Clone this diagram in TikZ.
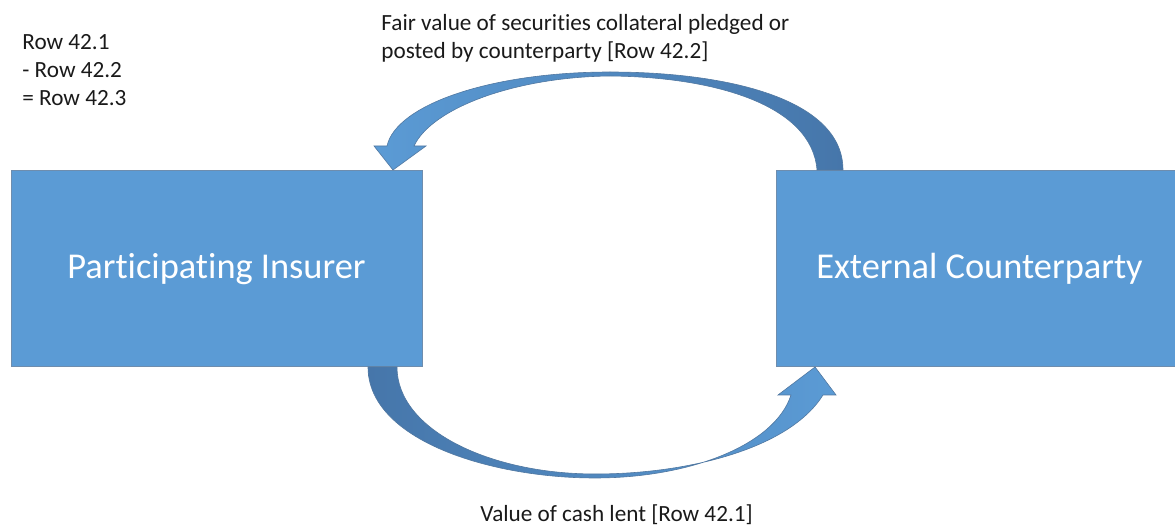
\documentclass[tikz,border=0pt]{standalone}
\usepackage{fontspec}
\setmainfont{Carlito}[Ligatures=NoCommon]
\definecolor{boxblue}{HTML}{5B9BD5}
\definecolor{boxedge}{HTML}{6E8DAE}
\definecolor{arrowdark}{HTML}{4676AA}
\definecolor{arrowlight}{HTML}{5B9BD5}
\definecolor{textgrey}{HTML}{1A1A1A}
\begin{document}
\begin{tikzpicture}[x=0.5pt,y=-0.5pt,
  party/.style={rectangle, draw=boxedge, line width=0.5pt, fill=boxblue,
    text=white, font=\fontsize{18.2}{22}\selectfont, inner sep=0pt},
  lbl/.style={font=\fontsize{11.6}{14}\selectfont, text=textgrey, inner sep=0pt, align=left},
  flow/.style={draw=arrowdark!80!gray, line width=0.3pt}]
\useasboundingbox (0,0) rectangle (1175,529);
% boxes
\node[party, minimum width=205.5pt, minimum height=98pt] (ins) at (216.5,269) {Participating Insurer};
\node[party, minimum width=199.5pt, minimum height=98pt] (cp) at (975.5,269) {\hspace*{4pt}External Counterparty};
% top curved arrow (counterparty -> insurer)
\coordinate (tTo) at (817,170);
\coordinate (tTi) at (843,170);
\shade[flow, left color=arrowlight, right color=arrowdark]
  (tTi) .. controls (843,98) and (725,72) .. (610,72)
        .. controls (490,72) and (396,105) .. (387,146)
  -- (374,146) -- (393,170) -- (426,146) -- (414,146)
  .. controls (432,108) and (515,77) .. (610,76)
  .. controls (715,77) and (812,105) .. (tTo) -- cycle;
% bottom curved arrow (insurer -> counterparty)
\coordinate (bTo) at (368,367);
\coordinate (bTi) at (397,367);
\shade[flow, left color=arrowdark, right color=arrowlight]
  (bTo) .. controls (368,440) and (490,478) .. (595,478)
        .. controls (690,478) and (775,445) .. (791,395)
  -- (778,395) -- (815,367) -- (836,395) -- (823,395)
  .. controls (790,448) and (690,474) .. (595,474)
  .. controls (490,474) and (397,430) .. (bTi) -- cycle;
% labels
\node[lbl, anchor=base west] (top1) at (381,31) {Fair value of securities collateral pledged or};
\node[lbl, anchor=base west] (top2) at (381,59) {posted by counterparty [Row 42.2]};
\node[lbl, anchor=base west] (bot) at (480,522) {Value of cash lent [Row 42.1]};
\node[lbl, anchor=base west] (r1) at (22,50) {Row 42.1};
\node[lbl, anchor=base west] (r2) at (22,78) {- Row 42.2};
\node[lbl, anchor=base west] (r3) at (22,106) {= Row 42.3};
\end{tikzpicture}
\end{document}
